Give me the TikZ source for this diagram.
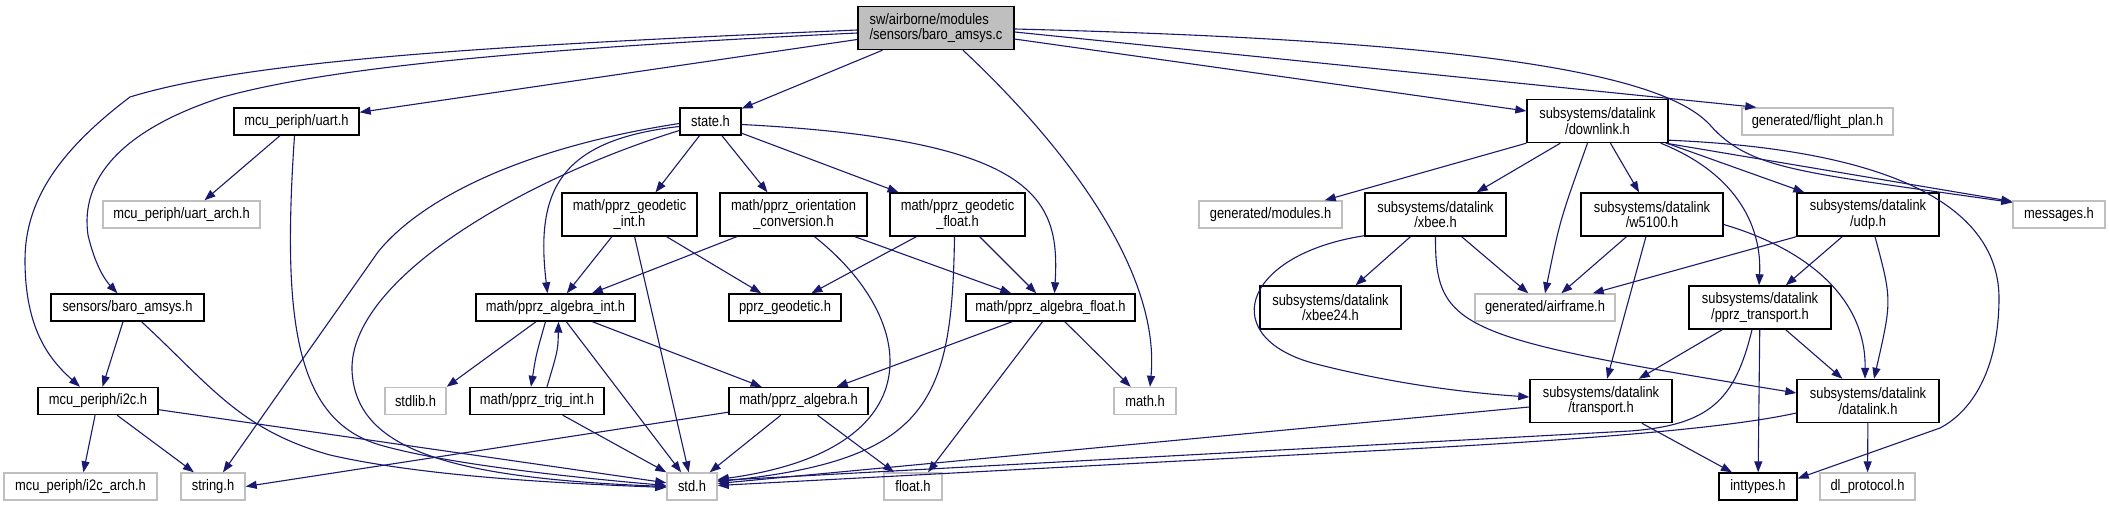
\documentclass[tikz,border=0pt]{standalone}
\usepackage{fontspec}
\setmainfont{Liberation Sans}[FakeStretch=0.85]
\usetikzlibrary{arrows.meta,calc}
\definecolor{edgeblue}{HTML}{191970}
\definecolor{nodegray}{HTML}{BFBFBF}
\begin{document}
\begin{tikzpicture}[x=0.5pt,y=-0.5pt,
  nd/.style={rectangle, draw=black, line width=0.7pt, inner sep=0pt, font=\fontsize{7.6}{7.8}\selectfont, text=black, fill=white},
  gnd/.style={nd, draw=nodegray},
  one/.style={minimum height=13.5pt},
  two/.style={minimum height=21.5pt, align=center},
  lnk/.style={draw=edgeblue, line width=0.55pt, -{Triangle[length=5.5pt,width=4pt]}}]
\fill[white] (0,0) rectangle (2109,507);
\useasboundingbox (0,0) rectangle (2109,507);
% nodes
\node[nd,two,fill=nodegray,align=left,minimum width=78pt] (c) at (936,28) {sw/airborne/modules\\/sensors/baro\_amsys.c};
\node[nd,one,minimum width=62.5pt] (uart) at (296.5,121.5) {mcu\_periph/uart.h};
\node[nd,one,minimum width=30.5pt] (state) at (710.5,121.5) {state.h};
\node[nd,two,minimum width=70.5pt] (downlink) at (1597.5,121) {subsystems/datalink\\/downlink.h};
\node[gnd,one,minimum width=75.5pt] (flightplan) at (1817.5,121.5) {generated/flight\_plan.h};
\node[gnd,one,minimum width=78.5pt] (uartarch) at (181.5,214.5) {mcu\_periph/uart\_arch.h};
\node[nd,two,minimum width=67.5pt] (geoint) at (629.5,214.5) {math/pprz\_geodetic\\\_int.h};
\node[nd,two,minimum width=73.5pt] (orient) at (793.5,214.5) {math/pprz\_orientation\\\_conversion.h};
\node[nd,two,minimum width=67.5pt] (geofloat) at (957.5,214.5) {math/pprz\_geodetic\\\_float.h};
\node[gnd,one,minimum width=71.5pt] (modules) at (1270.5,214.5) {generated/modules.h};
\node[nd,two,minimum width=70.5pt] (xbee) at (1435.5,214.5) {subsystems/datalink\\/xbee.h};
\node[nd,two,minimum width=71pt] (w5100) at (1652,214.5) {subsystems/datalink\\/w5100.h};
\node[nd,two,minimum width=71pt] (udp) at (1868,214.5) {subsystems/datalink\\/udp.h};
\node[gnd,one,minimum width=46pt] (messages) at (2059,214.5) {messages.h};
\node[nd,one,minimum width=76.5pt] (baroh) at (127.5,307.5) {sensors/baro\_amsys.h};
\node[nd,one,minimum width=79.5pt] (algint) at (555.5,307.5) {math/pprz\_algebra\_int.h};
\node[nd,one,minimum width=56pt] (geodetic) at (785,307.5) {pprz\_geodetic.h};
\node[nd,one,minimum width=84.5pt] (algfloat) at (1050.5,307.5) {math/pprz\_algebra\_float.h};
\node[nd,two,minimum width=70.5pt] (xbee24) at (1330.5,307.5) {subsystems/datalink\\/xbee24.h};
\node[gnd,one,minimum width=70pt] (airframe) at (1545,307.5) {generated/airframe.h};
\node[nd,two,minimum width=71pt] (pprztrans) at (1760,307.5) {subsystems/datalink\\/pprz\_transport.h};
\node[nd,one,minimum width=60pt] (i2c) at (98,401) {mcu\_periph/i2c.h};
\node[gnd,one,minimum width=30.5pt] (stdlib) at (415.5,401) {stdlib.h};
\node[nd,one,minimum width=67pt] (trig) at (537,401) {math/pprz\_trig\_int.h};
\node[nd,one,minimum width=69.5pt] (algebra) at (798.5,401) {math/pprz\_algebra.h};
\node[gnd,one,minimum width=31pt] (math) at (1145,401) {math.h};
\node[nd,two,minimum width=71pt] (transport) at (1601,401) {subsystems/datalink\\/transport.h};
\node[nd,two,minimum width=71pt] (datalink) at (1868,401) {subsystems/datalink\\/datalink.h};
\node[gnd,one,minimum width=76.5pt] (i2carch) at (80.5,486.5) {mcu\_periph/i2c\_arch.h};
\node[gnd,one,minimum width=32pt] (string) at (213,486.5) {string.h};
\node[gnd,one,minimum width=25pt] (std) at (692,486.5) {std.h};
\node[gnd,one,minimum width=29pt] (float) at (913,486.5) {float.h};
\node[nd,one,minimum width=39pt] (inttypes) at (1758,486.5) {inttypes.h};
\node[gnd,one,minimum width=47.5pt] (dlproto) at (1867.5,486.5) {dl\_protocol.h};
% edges from baro_amsys.c
\draw[lnk] ($(c.west)+(0,2)$) .. controls (500,45) and (250,60) .. (130,97) .. controls (60,150) and (25,200) .. (25,260) .. controls (25,330) and (50,360) .. ($(i2c.north)+(-18,0)$);
\draw[lnk] ($(c.west)+(0,5)$) .. controls (500,50) and (320,70) .. (223,97) .. controls (120,130) and (80,180) .. (88,235) .. controls (95,265) and (105,280) .. ($(baroh.north)+(-10,0)$);
\draw[lnk] (c) -- (uart);
\draw[lnk] (c) -- (state);
\draw[lnk] ($(c.south)+(27,0)$) .. controls (1080,160) and (1160,280) .. ($(math.north)+(5,0)$);
\draw[lnk] (c) -- (downlink);
\draw[lnk] ($(c.east)+(0,4)$) -- ($(flightplan.north west)+(15,0)$);
\draw[lnk] ($(c.east)+(0,1)$) .. controls (1450,40) and (1660,70) .. (1710,125) .. controls (1750,170) and (1800,172) .. ($(messages.west)+(0,-12)$);
% downlink
\draw[lnk] ($(downlink.south east)+(-3,0)$) -- ($(messages.west)+(0,-13)$);
\draw[lnk] ($(downlink.south east)+(0,-3)$) .. controls (1900,150) and (2000,210) .. (1999,300) .. controls (1998,380) and (1965,415) .. (1940,428) -- ($(inttypes.east)+(0,-8)$);
\draw[lnk] (downlink.south west) -- ($(modules.north east)+(-18,0)$);
\draw[lnk] ($(downlink.south west)+(34,0)$) -- ($(xbee.north east)+(-30,0)$);
\draw[lnk] ($(downlink.south)+(-10,0)$) .. controls (1560,220) .. (airframe.north);
\draw[lnk] (downlink) -- (w5100);
\draw[lnk] ($(downlink.south east)+(-8,0)$) .. controls (1740,175) and (1762,230) .. ($(pprztrans.north)+(-1,0)$);
\draw[lnk] ($(downlink.south east)+(-2,0)$) -- ($(udp.north west)+(8,0)$);
% xbee
\draw[lnk] (xbee) -- (xbee24);
\draw[lnk] (xbee.south) .. controls (1435,330) and (1460,338) .. ($(datalink.west)+(0,-8)$);
\draw[lnk] (xbee) -- (airframe);
\draw[lnk] ($(xbee.south west)+(0,-1)$) .. controls (1240,255) and (1215,340) .. (1320,365) .. controls (1400,385) and (1470,393) .. ($(transport.west)+(0,-4)$);
% w5100
\draw[lnk] (w5100) -- (airframe);
\draw[lnk] (w5100) -- (transport);
\draw[lnk] ($(w5100.east)+(0,10)$) .. controls (1810,250) and (1866,300) .. ($(datalink.north)+(-3,0)$);
% udp
\draw[lnk] (udp.south west) -- ($(airframe.north east)+(-23,0)$);
\draw[lnk] (udp) -- (pprztrans);
\draw[lnk] ($(udp.south)+(7,0)$) .. controls (1892,300) .. ($(datalink.north)+(6,0)$);
% pprz_transport
\draw[lnk] (pprztrans) -- (transport);
\draw[lnk] ($(pprztrans.south)+(-8,0)$) .. controls (1735,400) and (1710,425) .. (1630,431) -- ($(std.east)+(0,-6)$);
\draw[lnk] (pprztrans) -- (inttypes);
\draw[lnk] (pprztrans) -- (datalink);
% transport, datalink
\draw[lnk] ($(transport.west)+(0,6)$) -- ($(std.east)+(0,-3)$);
\draw[lnk] (transport) -- (inttypes);
\draw[lnk] ($(datalink.west)+(0,12)$) .. controls (1720,430) and (1550,442) .. (1350,452) -- ($(std.east)+(0,-1)$);
\draw[lnk] (datalink) -- (dlproto);
% uart
\draw[lnk] (uart) -- ($(uartarch.north)+(23,0)$);
\draw[lnk] ($(uart.south)+(-2,0)$) .. controls (282,320) and (295,420) .. (380,445) .. controls (450,465) and (580,478) .. ($(std.west)+(0,-1)$);
% state
\draw[lnk] (state) -- ($(geoint.north)+(26,0)$);
\draw[lnk] (state) -- ($(orient.north)+(-26,0)$);
\draw[lnk] (state) -- (geofloat);
\draw[lnk] ($(state.east)+(0,3)$) .. controls (1040,140) and (1060,200) .. ($(algfloat.north)+(4,0)$);
\draw[lnk] ($(state.west)+(0,5)$) .. controls (560,140) and (535,190) .. ($(algint.north)+(-8,0)$);
\draw[lnk] ($(state.west)+(0,9)$) .. controls (520,180) and (350,280) .. (352,370) .. controls (355,450) and (450,478) .. ($(std.west)+(0,0)$);
\draw[lnk] ($(state.west)+(0,2)$) .. controls (520,148) and (420,200) .. (378,252) -- ($(string.north)+(10,0)$);
% geodetic int / orientation / geodetic float
\draw[lnk] (geoint) -- (algint);
\draw[lnk] (geoint) -- (std);
\draw[lnk] (geoint) -- (geodetic);
\draw[lnk] (orient) -- (algint);
\draw[lnk] ($(orient.south)+(21,0)$) .. controls (920,320) and (935,450) .. ($(std.east)+(0,-7)$);
\draw[lnk] (orient) -- (algfloat);
\draw[lnk] (geofloat) -- (geodetic);
\draw[lnk] ($(geofloat.south)+(-3,0)$) .. controls (952,400) and (930,460) .. ($(std.east)+(0,-5)$);
\draw[lnk] (geofloat) -- (algfloat);
% algebra int
\draw[lnk] (algint) -- (stdlib.north east);
\draw[lnk] ($(algint.south)+(-10,0)$) .. controls (536,355) .. ($(trig.north)+(-6,0)$);
\draw[lnk] ($(trig.north)+(10,0)$) .. controls (558,350) .. ($(algint.south)+(3,0)$);
\draw[lnk] (algint) -- (std);
\draw[lnk] (algint) -- (algebra);
\draw[lnk] (trig) -- (std);
% algebra
\draw[lnk] ($(algebra.south west)+(0,-3)$) -- (string.east);
\draw[lnk] (algebra) -- (std);
\draw[lnk] (algebra) -- (float);
% algebra float
\draw[lnk] (algfloat) -- (algebra);
\draw[lnk] ($(algfloat.south)+(-8,0)$) -- ($(float.north)+(15,0)$);
\draw[lnk] (algfloat) -- (math);
% baro_amsys.h, i2c
\draw[lnk] (baroh) -- (i2c);
\draw[lnk] ($(baroh.south)+(14,0)$) .. controls (210,385) and (240,430) .. (330,455) .. controls (430,478) and (580,484) .. ($(std.west)+(0,1)$);
\draw[lnk] (i2c) -- (i2carch);
\draw[lnk] (i2c) -- (string);
\draw[lnk] (i2c) -- (std);
\end{tikzpicture}
\end{document}
